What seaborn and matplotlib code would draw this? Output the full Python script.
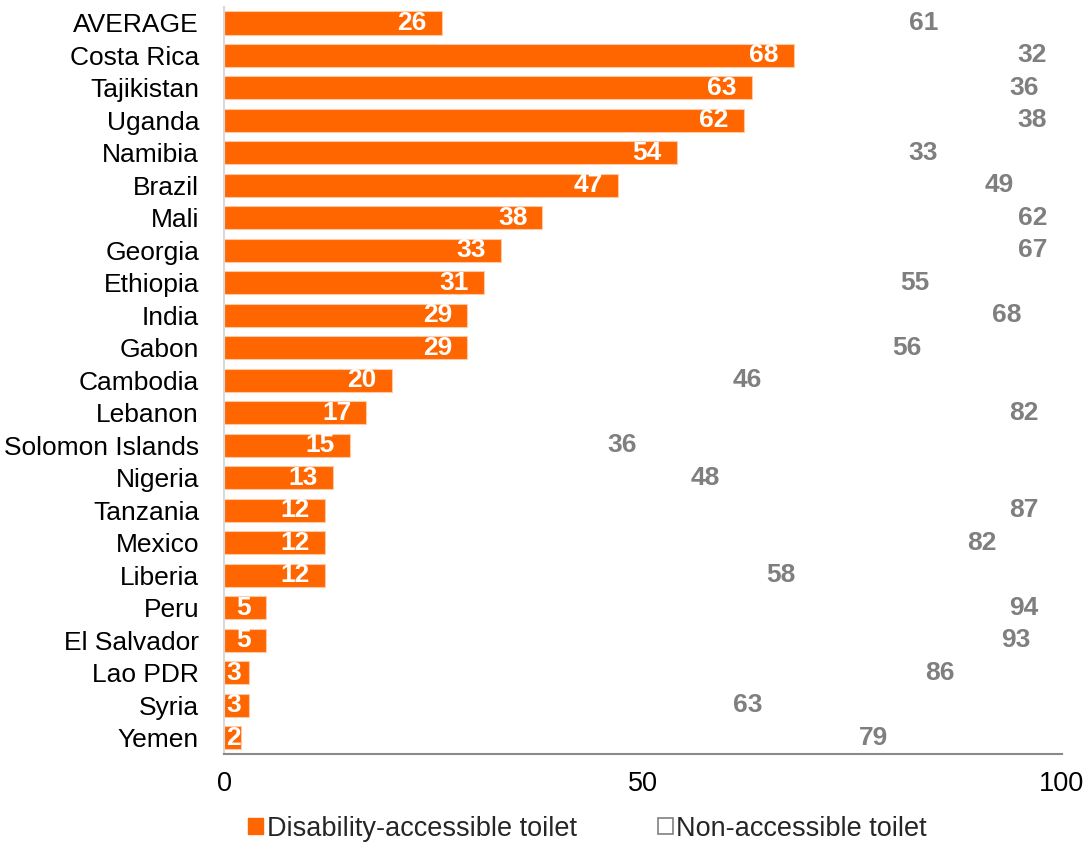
import matplotlib
matplotlib.use("Agg")
import matplotlib.pyplot as plt
import seaborn as sns
import pandas as pd
from matplotlib.patches import Patch

countries = ["AVERAGE", "Costa Rica", "Tajikistan", "Uganda", "Namibia", "Brazil", "Mali",
             "Georgia", "Ethiopia", "India", "Gabon", "Cambodia", "Lebanon", "Solomon Islands",
             "Nigeria", "Tanzania", "Mexico", "Liberia", "Peru", "El Salvador", "Lao PDR",
             "Syria", "Yemen"]
accessible = [26, 68, 63, 62, 54, 47, 38, 33, 31, 29, 29, 20, 17, 15, 13, 12, 12, 12, 5, 5, 3, 3, 2]
non_accessible = [61, 32, 36, 38, 33, 49, 62, 67, 55, 68, 56, 46, 82, 36, 48, 87, 82, 58, 94, 93, 86, 63, 79]
x_ticks = [0, 50, 100]
legend_labels = ["Disability-accessible toilet", "Non-accessible toilet"]

ORANGE = "#FF6600"
GRAY = "#7F7F7F"

df = pd.DataFrame({"country": countries, "acc": accessible, "non": non_accessible})
df["total"] = df["acc"] + df["non"]

sns.set_theme(style="white")
plt.rcParams["font.family"] = ["Liberation Sans", "DejaVu Sans"]

fig = plt.figure(figsize=(10.89, 8.42), dpi=100)
ax = fig.add_axes([0.2057, 0.1045, 0.7695, 0.8875])

# invisible stacked segment (non-accessible), drawn as totals in white
sns.barplot(data=df, y="country", x="total", color="white", ax=ax, width=0.71,
            saturation=1, edgecolor="none", orient="h")
sns.barplot(data=df, y="country", x="acc", color=ORANGE, ax=ax, width=0.71,
            saturation=1, edgecolor="#FFC9A6", linewidth=0.8, orient="h")

for i, (a, t) in enumerate(zip(df["acc"], df["total"])):
    if a <= 3:
        ax.annotate(str(a), xy=(0, i), xytext=(2, 0), textcoords="offset pixels",
                    ha="left", va="center", color="white", fontsize=19, fontweight="bold")
    else:
        ax.annotate(str(a), xy=(a, i), xytext=(-15, 0), textcoords="offset pixels",
                    ha="right", va="center", color="white", fontsize=19, fontweight="bold")
    ax.annotate(str(t - a), xy=(t, i), xytext=(-15, 0), textcoords="offset pixels",
                ha="right", va="center", color=GRAY, fontsize=19, fontweight="bold")

ax.set_xlim(0, 100)
ax.set_ylim(len(countries) - 0.5, -0.5)
ax.set_xticks(x_ticks)
ax.set_xticklabels([str(v) for v in x_ticks], fontsize=19.5)
ax.tick_params(axis="x", length=0, pad=12, colors="black")
ax.tick_params(axis="y", length=0, pad=18, labelsize=19, colors="black")
ax.set_xlabel("")
ax.set_ylabel("")
for s in ["top", "right"]:
    ax.spines[s].set_visible(False)
ax.spines["left"].set_color("#D9D9D9")
ax.spines["left"].set_linewidth(1.5)
ax.spines["bottom"].set_color("#898989")
ax.spines["bottom"].set_linewidth(1.5)

handles = [Patch(facecolor=ORANGE, edgecolor=ORANGE),
           Patch(facecolor="white", edgecolor="#808080", linewidth=1.2)]
fig.legend(handles, legend_labels, loc="center", bbox_to_anchor=(0.5395, 0.016),
           ncol=2, frameon=False, fontsize=19.5, handlelength=0.55, handleheight=0.55,
           handletextpad=0.12, columnspacing=3.0)

fig.savefig("out.png", dpi=100)
